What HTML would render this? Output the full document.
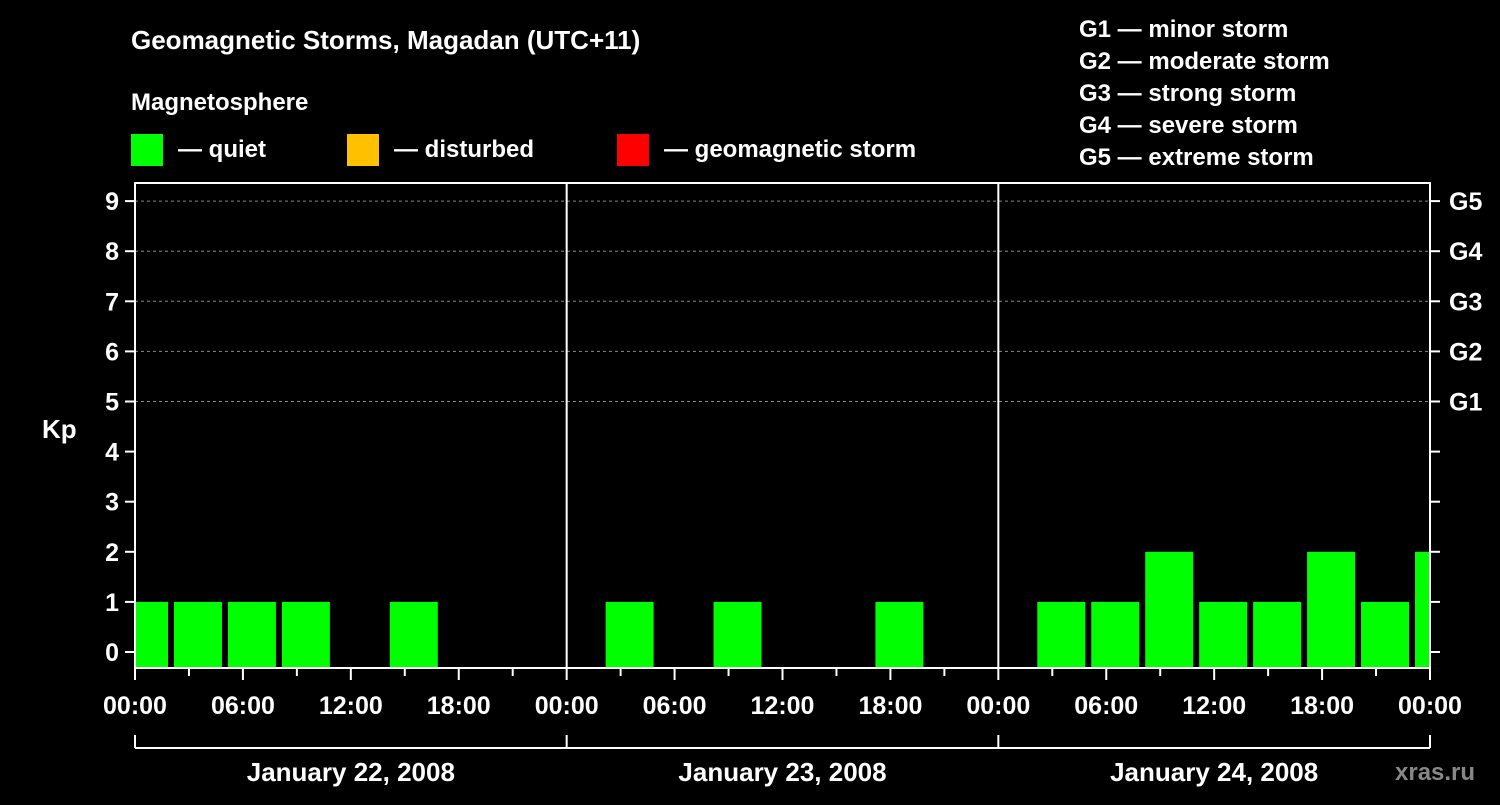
<!DOCTYPE html>
<html><head><meta charset="utf-8"><style>
body{margin:0;background:#000;width:1500px;height:800px;overflow:hidden;font-family:"Liberation Sans",sans-serif}
svg text{font-family:"Liberation Sans",sans-serif;font-weight:bold;fill:#fff}
</style></head><body>
<svg id="chart" width="1500" height="800" xmlns="http://www.w3.org/2000/svg">
<rect width="1500" height="800" fill="#000"/>
<text x="131" y="49" font-size="26">Geomagnetic Storms, Magadan (UTC+11)</text>
<text x="131" y="110" font-size="24">Magnetosphere</text>
<rect x="131" y="134" width="32" height="32" fill="#00ff00"/>
<text x="178" y="157" font-size="24">— quiet</text>
<rect x="347" y="134" width="32" height="32" fill="#ffc000"/>
<text x="394" y="157" font-size="24">— disturbed</text>
<rect x="617" y="134" width="32" height="32" fill="#ff0000"/>
<text x="664" y="157" font-size="24">— geomagnetic storm</text>
<g font-size="24">
<text x="1079" y="37">G1 — minor storm</text>
<text x="1079" y="69">G2 — moderate storm</text>
<text x="1079" y="101">G3 — strong storm</text>
<text x="1079" y="133">G4 — severe storm</text>
<text x="1079" y="165">G5 — extreme storm</text>
</g>
<text x="42" y="438" font-size="26">Kp</text>
<text x="1395" y="780" font-size="24" style="fill:#888">xras.ru</text>
<g id="plot"></g>
</svg>
<script>
const kpValues=[1,1,1,1,0,1,0,0, 0,1,0,1,0,0,1,0, 0,1,1,2,1,1,2,1,2];
const dayLabels=["January 22, 2008","January 23, 2008","January 24, 2008"];
const timeLabels=["00:00","06:00","12:00","18:00"];
const gLabels=["G1","G2","G3","G4","G5"];
const kpTicks=[0,1,2,3,4,5,6,7,8,9];

const X0=135,X1=1430,YT=183,YB=668;
const hourW=(X1-X0)/72;
const xH=h=>X0+h*hourW;
const yK=k=>652-k*50.1;
const ns="http://www.w3.org/2000/svg";
const plot=document.getElementById('plot');
function mk(tag,attrs){const e=document.createElementNS(ns,tag);for(const a in attrs)e.setAttribute(a,attrs[a]);plot.appendChild(e);return e;}

// grid
for(let k=5;k<=9;k++){
 const l=mk('line',{x1:X0,x2:X1,y1:yK(k),y2:yK(k),stroke:'#888','stroke-dasharray':'3,3','stroke-width':1});
 
 
}
// bars (3h intervals shifted by -1.5h)
const clip=mk('clipPath',{id:'pc'});
const cr=document.createElementNS(ns,'rect');cr.setAttribute('x',X0+1);cr.setAttribute('y',YT);cr.setAttribute('width',X1-X0-1);cr.setAttribute('height',YB-YT);clip.appendChild(cr);
kpValues.forEach((v,i)=>{
 if(v<=0)return;
 const c=xH(i*3-1.5+1.5)+9;
 const cx=X0+9+i*3*hourW;
 const b=mk('rect',{x:cx-24,y:yK(v),width:48,height:YB-yK(v),fill:'#00ff00','clip-path':'url(#pc)'});
 
 
});
// frame
const f=mk('rect',{x:X0,y:YT,width:X1-X0,height:YB-YT,fill:'none',stroke:'#fff','stroke-width':2});


for(let d=1;d<3;d++){
 const l=mk('line',{x1:xH(d*24),x2:xH(d*24),y1:YT,y2:YB,stroke:'#fff','stroke-width':2});
 
 
}
// y ticks
kpTicks.forEach(k=>{
 mk('line',{x1:X0-10,x2:X0,y1:yK(k),y2:yK(k),stroke:'#fff','stroke-width':2});
 mk('line',{x1:X1,x2:X1+10,y1:yK(k),y2:yK(k),stroke:'#fff','stroke-width':2});
 const t=mk('text',{x:X0-16,y:yK(k)+9,'font-size':25,'text-anchor':'end'});
 t.textContent=k;
 
 
});
gLabels.forEach((g,i)=>{
 const t=mk('text',{x:1449,y:yK(5+i)+9,'font-size':25});
 t.textContent=g;
 
 
});
// x ticks
for(let h=0;h<=72;h+=3){
 mk('line',{x1:xH(h),x2:xH(h),y1:YB,y2:YB+(h%6==0?12:8),stroke:'#fff','stroke-width':2});
}
for(let h=0;h<=72;h+=6){
 const t=mk('text',{x:xH(h),y:714,'font-size':25,'text-anchor':'middle'});
 t.textContent=(h%24==0&&h>0)?timeLabels[0]:timeLabels[(h%24)/6];
 
 
}
// date bracket
mk('line',{x1:X0,x2:X1,y1:748,y2:748,stroke:'#fff','stroke-width':2});
for(let d=0;d<=3;d++)mk('line',{x1:xH(d*24),x2:xH(d*24),y1:735,y2:748,stroke:'#fff','stroke-width':2});
dayLabels.forEach((s,d)=>{
 const t=mk('text',{x:xH(d*24+12),y:781,'font-size':26,'text-anchor':'middle'});
 t.textContent=s;
 
 
});
</script>
</body></html>
